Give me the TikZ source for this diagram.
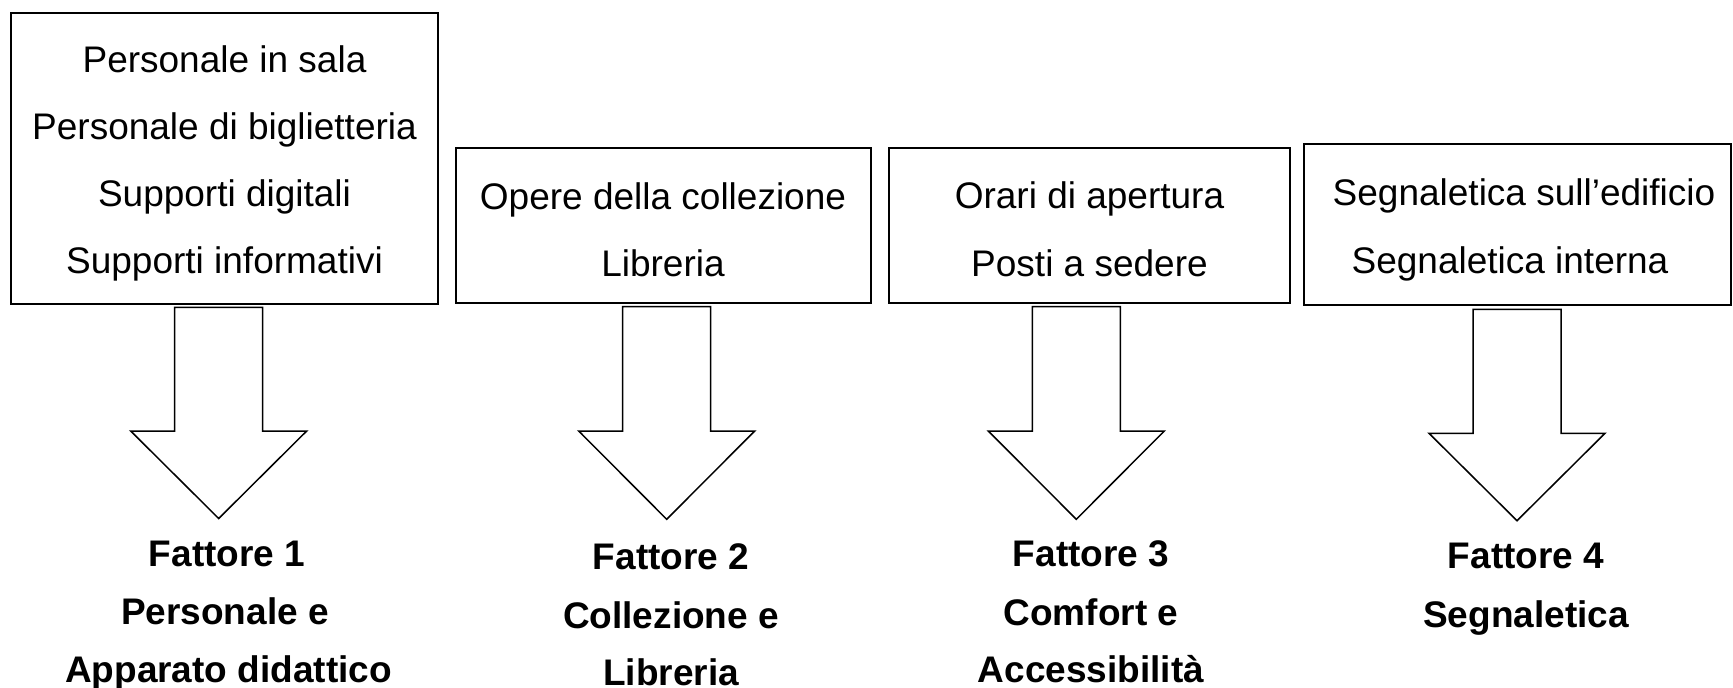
\documentclass[tikz,border=0pt]{standalone}
\usepackage{fontspec}
\setmainfont{Liberation Sans}
\begin{document}
\begin{tikzpicture}[x=1pt,y=-1pt,
  box/.style={draw=black, line width=1.8pt, fill=white, inner sep=0pt},
  itemtext/.style={anchor=base, inner sep=0pt, font=\fontsize{37}{37}\selectfont},
  factortext/.style={anchor=base, inner sep=0pt, font=\fontsize{37}{37}\selectfont\bfseries},
  blockarrow/.style={draw=black, line width=1.5pt, fill=white, line join=miter}]
\fill[white] (0,0) rectangle (1733,688);
\useasboundingbox (0,0) rectangle (1733,688);

% boxes
\node[box, minimum width=427, minimum height=291] (b1) at (224.5,158.5) {};
\node[box, minimum width=415, minimum height=155] (b2) at (663.5,225.5) {};
\node[box, minimum width=401, minimum height=155] (b3) at (1089.5,225.5) {};
\node[box, minimum width=427, minimum height=161] (b4) at (1517.5,224.5) {};

% box texts
\node[itemtext] (t11) at (224.5,72) {Personale in sala};
\node[itemtext] (t12) at (224.5,139) {Personale di biglietteria};
\node[itemtext] (t13) at (224.5,206) {Supporti digitali};
\node[itemtext] (t14) at (224.5,273) {Supporti informativi};

\node[itemtext] (t21) at (663,209) {Opere della collezione};
\node[itemtext] (t22) at (663,276) {Libreria};

\node[itemtext] (t31) at (1089.5,208.5) {Orari di apertura};
\node[itemtext] (t32) at (1089.5,276.5) {Posti a sedere};

\node[itemtext] (t41) at (1524,205) {Segnaletica sull’edificio};
\node[itemtext] (t42) at (1510,273.5) {Segnaletica interna};

% block arrows
\foreach \cx/\tp/\bs/\tip in {218.7/307.3/431/518.5, 666.7/306.7/431/519.3, 1076.3/306.7/431/519.3, 1517/309.3/433.3/520.7}{
  \draw[blockarrow] ({\cx-44},\tp) -- ({\cx+44},\tp) -- ({\cx+44},\bs) -- ({\cx+88},\bs)
    -- (\cx,\tip) -- ({\cx-88},\bs) -- ({\cx-44},\bs) -- cycle;
}

% factor labels
\node[factortext] (f11) at (227,566) {Fattore 1};
\node[factortext] (f12) at (225,624) {Personale e};
\node[factortext] (f13) at (228.5,682) {Apparato didattico};

\node[factortext] (f21) at (671,569) {Fattore 2};
\node[factortext] (f22) at (671,628) {Collezione e};
\node[factortext] (f23) at (671,685) {Libreria};

\node[factortext] (f31) at (1091,566) {Fattore 3};
\node[factortext] (f32) at (1091,625) {Comfort e};
\node[factortext] (f33) at (1091,682) {Accessibilità};

\node[factortext] (f41) at (1526,568) {Fattore 4};
\node[factortext] (f42) at (1526,627) {Segnaletica};
\end{tikzpicture}
\end{document}
